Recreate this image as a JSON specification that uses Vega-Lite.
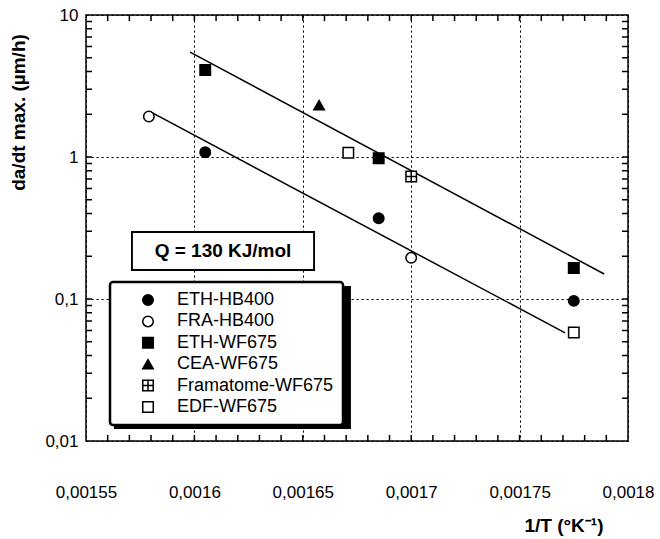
{
  "$schema": "https://vega.github.io/schema/vega-lite/v6.json",
  "width": 542,
  "height": 426,
  "autosize": {"type": "none"},
  "padding": {"left": 86, "top": 15, "right": 32, "bottom": 98},
  "background": "white",
  "config": {
    "view": {"stroke": "black", "strokeWidth": 1.5},
    "font": "Liberation Sans",
    "axis": {
      "domain": false,
      "ticks": false, "tickSize": 0,
      "labelColor": "black", "titleColor": "black",
      "labelFont": "Liberation Sans", "titleFont": "Liberation Sans",
      "gridColor": "black", "gridDash": [2.2, 2.8], "gridWidth": 1
    },
    "legend": {"strokeWidth": 2.5}
  },
  "datasets": {
    "points": [
      {"series": "ETH-HB400", "x": 0.001605, "y": 1.08},
      {"series": "ETH-HB400", "x": 0.001685, "y": 0.37},
      {"series": "ETH-HB400", "x": 0.001775, "y": 0.097},
      {"series": "FRA-HB400", "x": 0.001579, "y": 1.93},
      {"series": "FRA-HB400", "x": 0.0017, "y": 0.195},
      {"series": "ETH-WF675", "x": 0.001605, "y": 4.1},
      {"series": "ETH-WF675", "x": 0.001685, "y": 0.98},
      {"series": "ETH-WF675", "x": 0.001775, "y": 0.165},
      {"series": "CEA-WF675", "x": 0.0016575, "y": 2.32},
      {"series": "Framatome-WF675", "x": 0.0017, "y": 0.73},
      {"series": "EDF-WF675", "x": 0.001671, "y": 1.07},
      {"series": "EDF-WF675", "x": 0.001775, "y": 0.058}
    ],
    "lines": [
      {"fit": "upper", "x": 0.001598, "y": 5.48},
      {"fit": "upper", "x": 0.001789, "y": 0.15},
      {"fit": "lower", "x": 0.00158, "y": 2.07},
      {"fit": "lower", "x": 0.001771, "y": 0.0577}
    ],
    "qbox": [
      {"x1": 0.0015712, "x2": 0.0016552, "y1": 0.16, "y2": 0.2964, "xc": 0.0016132, "yc": 0.218, "label": "Q = 130 KJ/mol"}
    ],
    "shadow": [
      {"x1": 0.0015629, "x2": 0.0016722, "y1": 0.01215, "y2": 0.1234}
    ],
    "xticks": [
      {"v": 0.00156}, {"v": 0.00157}, {"v": 0.00158}, {"v": 0.00159}, {"v": 0.0016},
      {"v": 0.00161}, {"v": 0.00162}, {"v": 0.00163}, {"v": 0.00164}, {"v": 0.00165},
      {"v": 0.00166}, {"v": 0.00167}, {"v": 0.00168}, {"v": 0.00169}, {"v": 0.0017},
      {"v": 0.00171}, {"v": 0.00172}, {"v": 0.00173}, {"v": 0.00174}, {"v": 0.00175},
      {"v": 0.00176}, {"v": 0.00177}, {"v": 0.00178}, {"v": 0.00179}
    ],
    "yticks": [
      {"v": 0.02}, {"v": 0.03}, {"v": 0.04}, {"v": 0.05}, {"v": 0.06}, {"v": 0.07}, {"v": 0.08}, {"v": 0.09},
      {"v": 0.1}, {"v": 0.2}, {"v": 0.3}, {"v": 0.4}, {"v": 0.5}, {"v": 0.6}, {"v": 0.7}, {"v": 0.8}, {"v": 0.9},
      {"v": 1}, {"v": 2}, {"v": 3}, {"v": 4}, {"v": 5}, {"v": 6}, {"v": 7}, {"v": 8}, {"v": 9}
    ]
  },
  "resolve": {"axis": {"x": "independent", "y": "independent"}},
  "layer": [
    {
      "data": {"name": "xticks"},
      "mark": {"type": "rule", "color": "black", "strokeWidth": 1.5},
      "encoding": {
        "x": {"field": "v", "type": "quantitative", "axis": null, "scale": {"domain": [0.00155, 0.0018], "nice": false, "zero": false}},
        "y": {"datum": 0.01, "type": "quantitative", "axis": null, "scale": {"type": "log", "domain": [0.01, 10], "nice": false}},
        "y2": {"datum": 0.01102}
      }
    },
    {
      "data": {"name": "xticks"},
      "mark": {"type": "rule", "color": "black", "strokeWidth": 1.5},
      "encoding": {
        "x": {"field": "v", "type": "quantitative", "axis": null, "scale": {"domain": [0.00155, 0.0018], "nice": false, "zero": false}},
        "y": {"datum": 10, "type": "quantitative", "axis": null, "scale": {"type": "log", "domain": [0.01, 10], "nice": false}},
        "y2": {"datum": 9.074}
      }
    },
    {
      "data": {"name": "yticks"},
      "mark": {"type": "rule", "color": "black", "strokeWidth": 1.5},
      "encoding": {
        "y": {"field": "v", "type": "quantitative", "axis": null, "scale": {"type": "log", "domain": [0.01, 10], "nice": false}},
        "x": {"datum": 0.00155, "type": "quantitative", "axis": null, "scale": {"domain": [0.00155, 0.0018], "nice": false, "zero": false}},
        "x2": {"datum": 0.00155277}
      }
    },
    {
      "data": {"name": "yticks"},
      "mark": {"type": "rule", "color": "black", "strokeWidth": 1.5},
      "encoding": {
        "y": {"field": "v", "type": "quantitative", "axis": null, "scale": {"type": "log", "domain": [0.01, 10], "nice": false}},
        "x": {"datum": 0.0018, "type": "quantitative", "axis": null, "scale": {"domain": [0.00155, 0.0018], "nice": false, "zero": false}},
        "x2": {"datum": 0.00179723}
      }
    },
    {
      "data": {"name": "lines"},
      "mark": {"type": "line", "color": "black", "strokeWidth": 1.5},
      "encoding": {
        "x": {"field": "x", "type": "quantitative", "axis": null, "scale": {"domain": [0.00155, 0.0018], "nice": false, "zero": false}},
        "y": {"field": "y", "type": "quantitative", "axis": null, "scale": {"type": "log", "domain": [0.01, 10], "nice": false}},
        "detail": {"field": "fit", "type": "nominal"}
      }
    },
    {
      "data": {"name": "shadow"},
      "mark": {"type": "rect", "fill": "black"},
      "encoding": {
        "x": {"field": "x1", "type": "quantitative", "axis": null, "scale": {"domain": [0.00155, 0.0018], "nice": false, "zero": false}},
        "x2": {"field": "x2"},
        "y": {"field": "y1", "type": "quantitative", "axis": null, "scale": {"type": "log", "domain": [0.01, 10], "nice": false}},
        "y2": {"field": "y2"}
      }
    },
    {
      "data": {"name": "qbox"},
      "mark": {"type": "rect", "fill": "white", "stroke": "black", "strokeWidth": 1.9},
      "encoding": {
        "x": {"field": "x1", "type": "quantitative", "axis": null, "scale": {"domain": [0.00155, 0.0018], "nice": false, "zero": false}},
        "x2": {"field": "x2"},
        "y": {"field": "y1", "type": "quantitative", "axis": null, "scale": {"type": "log", "domain": [0.01, 10], "nice": false}},
        "y2": {"field": "y2"}
      }
    },
    {
      "data": {"name": "qbox"},
      "mark": {"type": "text", "font": "Liberation Sans", "fontSize": 19, "fontWeight": "bold", "color": "black", "align": "center", "baseline": "middle"},
      "encoding": {
        "x": {"field": "xc", "type": "quantitative", "axis": null, "scale": {"domain": [0.00155, 0.0018], "nice": false, "zero": false}},
        "y": {"field": "yc", "type": "quantitative", "axis": null, "scale": {"type": "log", "domain": [0.01, 10], "nice": false}},
        "text": {"field": "label"}
      }
    },
    {
      "data": {"name": "points"},
      "mark": {"type": "point", "filled": false, "strokeWidth": 1.5, "size": 110, "opacity": 1},
      "encoding": {
        "x": {
          "field": "x", "type": "quantitative",
          "scale": {"domain": [0.00155, 0.0018], "nice": false, "zero": false},
          "axis": {
            "orient": "bottom", "grid": true, "ticks": false, "tickSize": 0, "labelFontSize": 17, "labelPadding": 43,
            "labelFlush": false, "labelOverlap": false,
            "values": [0.00155, 0.00156, 0.00157, 0.00158, 0.00159, 0.0016, 0.00161, 0.00162, 0.00163, 0.00164, 0.00165, 0.00166, 0.00167, 0.00168, 0.00169, 0.0017, 0.00171, 0.00172, 0.00173, 0.00174, 0.00175, 0.00176, 0.00177, 0.00178, 0.00179, 0.0018],
            "labelExpr": "abs(datum.value*20000 - round(datum.value*20000)) < 0.001 ? replace(toString(round(datum.value*100000)/100000), '.', ',') : ''",
            "gridOpacity": {"condition": {"test": "abs(datum.value*20000 - round(datum.value*20000)) < 0.001", "value": 1}, "value": 0},
            "title": "1/T (°K⁻¹)", "titleFontSize": 19, "titleFontWeight": "bold",
            "titleAlign": "right", "titleBaseline": "middle", "titleX": 517, "titleY": 84
          }
        },
        "y": {
          "field": "y", "type": "quantitative",
          "scale": {"type": "log", "domain": [0.01, 10], "nice": false},
          "axis": {
            "orient": "left", "grid": true, "ticks": false, "tickSize": 0, "labelFontSize": 17, "labelPadding": 8,
            "labelFlush": false, "labelOverlap": false,
            "values": [0.01, 0.02, 0.03, 0.04, 0.05, 0.06, 0.07, 0.08, 0.09, 0.1, 0.2, 0.3, 0.4, 0.5, 0.6, 0.7, 0.8, 0.9, 1, 2, 3, 4, 5, 6, 7, 8, 9, 10],
            "labelExpr": "abs(log(datum.value)/LN10 - round(log(datum.value)/LN10)) < 0.001 ? replace(toString(datum.value), '.', ',') : ''",
            "gridOpacity": {"condition": {"test": "abs(log(datum.value)/LN10 - round(log(datum.value)/LN10)) < 0.001", "value": 1}, "value": 0},
            "title": "da/dt max. (µm/h)", "titleFontSize": 19, "titleFontWeight": "bold",
            "titleAngle": -90, "titleAlign": "center", "titleBaseline": "middle", "titleX": -68, "titleY": 97
          }
        },
        "shape": {
          "field": "series", "type": "nominal",
          "scale": {
            "domain": ["ETH-HB400", "FRA-HB400", "ETH-WF675", "CEA-WF675", "Framatome-WF675", "EDF-WF675"],
            "range": ["circle", "circle", "square", "triangle-up", "M-1,-1H1V1H-1Z M0,-1V1 M-1,0H1", "square"]
          },
          "legend": {
            "title": null, "orient": "none", "legendX": 24, "legendY": 267,
            "padding": 9, "rowPadding": 3.4, "strokeColor": "black", "fillColor": "white", "cornerRadius": 3,
            "labelFontSize": 18, "labelFont": "Liberation Sans", "labelColor": "black", "labelLimit": 300,
            "symbolSize": 110, "symbolStrokeWidth": 1.5, "symbolOffset": 20, "labelOffset": 20
          }
        },
        "fill": {
          "field": "series", "type": "nominal",
          "scale": {
            "domain": ["ETH-HB400", "FRA-HB400", "ETH-WF675", "CEA-WF675", "Framatome-WF675", "EDF-WF675"],
            "range": ["black", "white", "black", "black", "white", "white"]
          },
          "legend": {
            "title": null, "orient": "none", "legendX": 24, "legendY": 267,
            "padding": 9, "rowPadding": 3.4, "strokeColor": "black", "fillColor": "white", "cornerRadius": 3,
            "labelFontSize": 18, "labelFont": "Liberation Sans", "labelColor": "black", "labelLimit": 300,
            "symbolSize": 110, "symbolStrokeWidth": 1.5, "symbolOffset": 20, "labelOffset": 20
          }
        },
        "stroke": {
          "field": "series", "type": "nominal",
          "scale": {
            "domain": ["ETH-HB400", "FRA-HB400", "ETH-WF675", "CEA-WF675", "Framatome-WF675", "EDF-WF675"],
            "range": ["black", "black", "black", "black", "black", "black"]
          },
          "legend": {
            "title": null, "orient": "none", "legendX": 24, "legendY": 267,
            "padding": 9, "rowPadding": 3.4, "strokeColor": "black", "fillColor": "white", "cornerRadius": 3,
            "labelFontSize": 18, "labelFont": "Liberation Sans", "labelColor": "black", "labelLimit": 300,
            "symbolSize": 110, "symbolStrokeWidth": 1.5, "symbolOffset": 20, "labelOffset": 20
          }
        }
      }
    }
  ]
}
